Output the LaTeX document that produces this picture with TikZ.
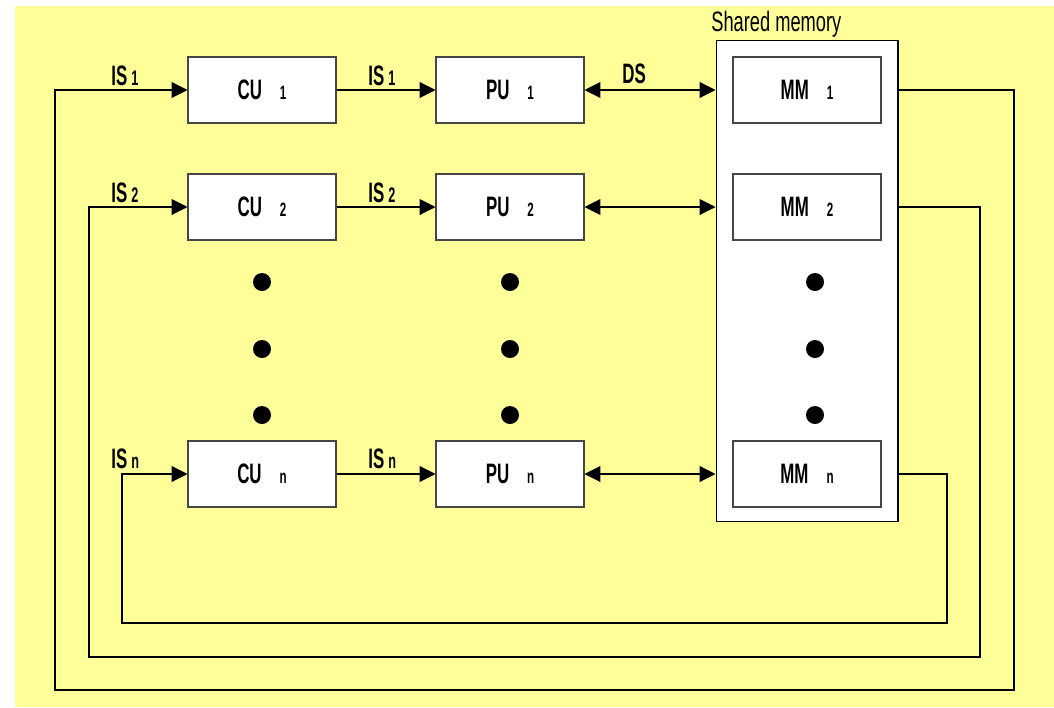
\documentclass[tikz,border=0pt]{standalone}
\usepackage{fontspec}
\setmainfont{Liberation Sans}[FakeStretch=0.6]
\usetikzlibrary{arrows.meta, positioning, calc}
\definecolor{paperyellow}{RGB}{255, 255, 153}
\definecolor{linegray}{RGB}{70, 70, 70}

% unit name with its small index
\newcommand{\unitlbl}[2]{\bfseries #1\hspace{0.36cm}{\fontsize{11}{11}\selectfont #2}}
% instruction stream label
\newcommand{\sig}[2]{\bfseries #1\hspace{0.08cm}{\fontsize{12}{12}\selectfont #2}}

\tikzset{
  unitbox/.style={draw=linegray, fill=white, line width=0.6pt, minimum width=2.96cm,
    minimum height=1.32cm, inner sep=0pt, font=\fontsize{16}{16}\selectfont},
  membox/.style={draw=black, fill=white, line width=0.6pt, minimum width=3.64cm,
    minimum height=9.64cm, inner sep=0pt},
  bigdot/.style={circle, fill=black, minimum size=0.36cm, inner sep=0pt},
  flow/.style={draw=black, line width=0.6pt, -{Triangle[length=9pt,width=9pt]}},
  duplex/.style={draw=black, line width=0.6pt,
    {Triangle[length=9pt,width=9pt]}-{Triangle[length=9pt,width=9pt]}},
  siglbl/.style={font=\fontsize{16}{16}\selectfont, inner sep=0pt, anchor=base west},
}

\begin{document}
\begin{tikzpicture}[x=0.02cm, y=-0.02cm]
  \useasboundingbox (0,0) rectangle (1054,707);
  \fill[paperyellow] (15,6) rectangle (1054,707);

  % shared memory frame
  \node[membox] (mem) at (807,281) {};
  \node[siglbl, font=\fontsize{16}{16}\selectfont\addfontfeatures{FakeStretch=0.65}] (memtitle) at (711,31) {Shared memory};

  % control, processing and memory units
  \foreach \i/\y in {1/90, 2/207, n/474} {
    \node[unitbox] (cu\i) at (262,\y) {\unitlbl{CU}{\i}};
    \node[unitbox] (pu\i) at (510,\y) {\unitlbl{PU}{\i}};
    \node[unitbox] (mm\i) at (807,\y) {\unitlbl{MM}{\i}};
  }

  % ellipsis dots
  \foreach \x in {262, 510, 815}
    \foreach \y in {282, 349, 415}
      \node[bigdot] (dot\x\y) at (\x,\y) {};

  % CU -> PU and PU <-> memory
  \foreach \i in {1, 2, n} {
    \draw[flow] (cu\i) -- (pu\i);
    \draw[duplex] (pu\i) -- (pu\i -| mem.west);
  }

  % feedback from each memory module back to its CU
  \foreach \i/\r/\b/\l in {1/1014/690/55, 2/980/657/89, n/947/623/122}
    \draw[flow] (mm\i -| mem.east) -| (\r,\b) -| (\l,0 |- cu\i) -- (cu\i.west);

  % stream labels
  \foreach \i/\y in {1/85, 2/202, n/468} {
    \node[siglbl] (isin\i) at (111,\y) {\sig{IS}{\i}};
    \node[siglbl] (isout\i) at (368,\y) {\sig{IS}{\i}};
  }
  \node[siglbl] (ds) at (622,83) {\bfseries DS};
\end{tikzpicture}
\end{document}
